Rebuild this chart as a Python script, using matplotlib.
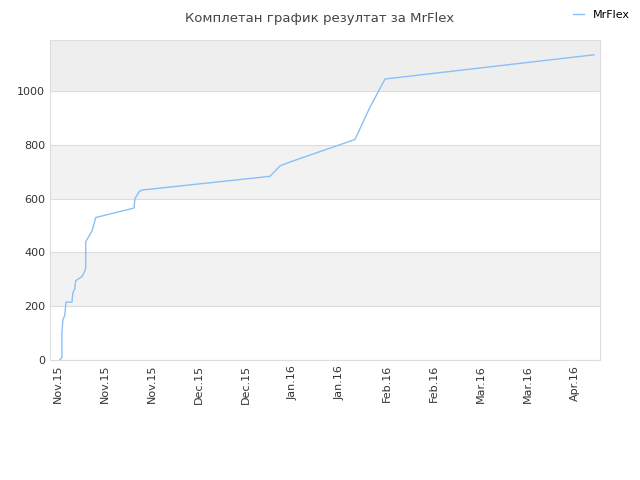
import matplotlib.pyplot as plt

days = [0.6, 1.3, 1.3, 1.6, 2.2, 2.6, 4.5, 4.8, 5.4, 5.7, 7.7, 8.6, 8.9, 8.9, 10.9, 12.1,
        24.3, 24.6, 25.9, 26.8, 67.7, 70.9, 75.0, 94.8, 99.6, 104.4, 171.1]
points = [0, 10, 100, 150, 165, 215, 215, 250, 265, 295, 310, 330, 345, 440, 480, 530,
          565, 600, 625, 632, 683, 722, 740, 820, 940, 1045, 1135]
tick_days = [0, 15, 30, 45, 60, 75, 90, 105, 120, 135, 150, 165]
tick_labels = ["Nov.15", "Nov.15", "Nov.15", "Dec.15", "Dec.15", "Jan.16", "Jan.16",
               "Feb.16", "Feb.16", "Mar.16", "Mar.16", "Apr.16"]

fig = plt.figure(figsize=(6.4, 4.8), dpi=100)
ax = fig.add_axes([50/640, 120/480, 550/640, 320/480])
ymax = 1190
for lo, c in [(0, 'white'), (200, '#f2f2f2'), (400, 'white'), (600, '#f2f2f2'),
              (800, 'white'), (1000, '#eeeeee')]:
    ax.axhspan(lo, min(lo + 200, ymax), color=c, zorder=0, lw=0)
ax.plot(days, points, color='#88c0f8', lw=1, label='MrFlex', zorder=2)
ax.set_xlim(-2.5, 173)
ax.set_ylim(0, ymax)
ax.set_yticks([0, 200, 400, 600, 800, 1000])
ax.set_xticks(tick_days)
ax.set_xticklabels(tick_labels, rotation=90)
ax.tick_params(labelsize=8, colors='#333333', length=0)
ax.grid(axis='y', color='#dddddd', lw=0.8, zorder=1)
for s in ax.spines.values():
    s.set_color('#dddddd')
fig.text(0.5, 0.975, 'Комплетан график резултат за MrFlex', ha='center', va='top',
         fontsize=9.5, color='#444444')
fig.legend(loc='upper right', bbox_to_anchor=(1.0, 1.0), frameon=False, fontsize=8,
           handlelength=1.0)
fig.savefig('out.png')
